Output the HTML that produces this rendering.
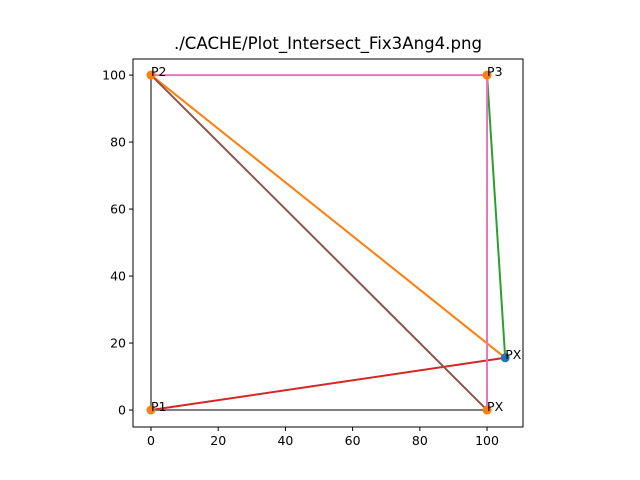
<!DOCTYPE html>
<html><head><meta charset="utf-8"><style>body{margin:0;background:#fff}svg{display:block;font-family:"DejaVu Sans","Liberation Sans",sans-serif}</style></head>
<body>
<svg id="chart" width="640" height="480">
<rect width="640" height="480" fill="#fff"/>
<text x="328" y="49" text-anchor="middle" font-size="16.6">./CACHE/Plot_Intersect_Fix3Ang4.png</text>
</svg>
<script>
const xTicks=[0,20,40,60,80,100];
const yTicks=[0,20,40,60,80,100];
const segStart=[[0,0],[0,0],[0,0],[0,100],[100,100],[0,100],[100,100],[0,100]];
const segEnd=[[0,100],[100,0],[105.4,15.6],[105.4,15.6],[105.4,15.6],[100,0],[100,0],[100,100]];
const segColors=['#7f7f7f','#7f7f7f','#d62728','#ff7f0e','#2ca02c','#8c564b','#e377c2','#e377c2'];
const segNames=['p1-p2-line','p1-px-bottom-line','p1-px-line','p2-px-line','p3-px-line','p2-px-diagonal','p3-px-vertical','p2-p3-line'];
const ptX=[0,0,100,100,105.4];
const ptY=[0,100,100,0,15.6];
const ptLabels=['P1','P2','P3','PX','PX'];
const ptColors=['#ff7f0e','#ff7f0e','#ff7f0e','#ff7f0e','#1f77b4'];
const L=133,R=523,T=59,B=427,xmin=-5.36,xmax=110.7,ymin=-5.06,ymax=104.8;
const sx=v=>L+(v-xmin)/(xmax-xmin)*(R-L);
const sy=v=>B-(v-ymin)/(ymax-ymin)*(B-T);
const svg=document.getElementById('chart');const NS='http://www.w3.org/2000/svg';
function mk(t,a){const e=document.createElementNS(NS,t);for(const k in a)e.setAttribute(k,a[k]);svg.appendChild(e);return e;}
segStart.forEach((s,i)=>{const e=mk('line',{x1:sx(s[0]),y1:sy(s[1]),x2:sx(segEnd[i][0]),y2:sy(segEnd[i][1]),stroke:segColors[i],'stroke-width':2});

});
ptX.forEach((x,i)=>{const c=mk('circle',{cx:sx(x),cy:sy(ptY[i]),r:4.5,fill:ptColors[i]});


const t=mk('text',{x:sx(x),y:sy(ptY[i])+1,'font-size':12.5});t.textContent=ptLabels[i];

});
const fr=mk('rect',{x:L,y:T,width:R-L,height:B-T,fill:'none',stroke:'#000','stroke-width':1});


xTicks.forEach(v=>{mk('line',{x1:sx(v),x2:sx(v),y1:B,y2:B+4,stroke:'#000'});const t=mk('text',{x:sx(v),y:B+18,'text-anchor':'middle','font-size':12.5});t.textContent=v;

});
yTicks.forEach(v=>{mk('line',{x1:L-4,x2:L,y1:sy(v),y2:sy(v),stroke:'#000'});const t=mk('text',{x:L-7,y:sy(v)+4.5,'text-anchor':'end','font-size':12.5});t.textContent=v;

});
</script>
</body></html>
